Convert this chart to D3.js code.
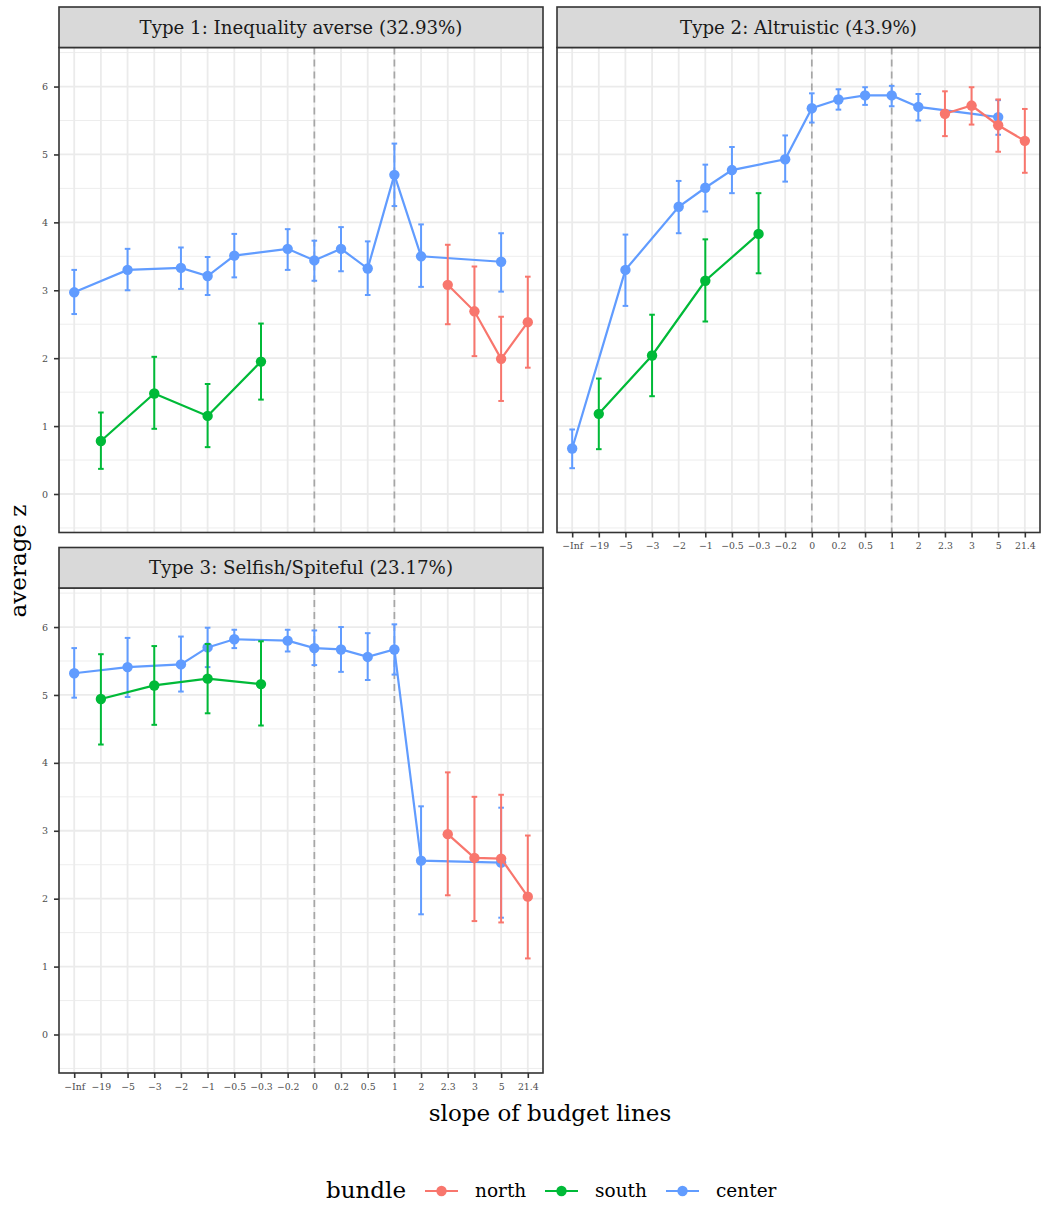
<!DOCTYPE html>
<html>
<head>
<meta charset="utf-8">
<script src="https://cdn.jsdelivr.net/npm/d3@7"></script>
<style>
  body { margin: 0; background: #fff; }
  svg { display: block; font-family: "DejaVu Serif", serif; }
</style>
</head>
<body>
<svg id="chart" width="1041" height="1207"></svg>
<script>
const slopes = ["-Inf", "-19", "-5", "-3", "-2", "-1", "-0.5", "-0.3", "-0.2", "0", "0.2", "0.5", "1", "2", "2.3", "3", "5", "21.4"];
const yTicks = [0, 1, 2, 3, 4, 5, 6];
const refLines = ["0", "1"];
const bundles = ["north", "south", "center"];
const bundleColors = ["#F8766D", "#00BA38", "#619CFF"];
const panelTitles = ["Type 1: Inequality averse (32.93%)", "Type 2: Altruistic (43.9%)", "Type 3: Selfish/Spiteful (23.17%)"];

// rows: [slope, mean, lower, upper]
const type1North = [["2.3", 3.08, 2.50, 3.67], ["3", 2.69, 2.03, 3.35], ["5", 1.99, 1.37, 2.61], ["21.4", 2.53, 1.86, 3.20]];
const type1South = [["-19", 0.78, 0.37, 1.20], ["-3", 1.48, 0.96, 2.02], ["-1", 1.15, 0.69, 1.62], ["-0.3", 1.95, 1.39, 2.51]];
const type1Center = [["-Inf", 2.97, 2.65, 3.30], ["-5", 3.30, 3.00, 3.61], ["-2", 3.33, 3.02, 3.63], ["-1", 3.21, 2.93, 3.49],
  ["-0.5", 3.51, 3.19, 3.83], ["-0.2", 3.61, 3.30, 3.90], ["0", 3.44, 3.14, 3.73], ["0.2", 3.61, 3.28, 3.93],
  ["0.5", 3.32, 2.93, 3.72], ["1", 4.70, 4.24, 5.16], ["2", 3.50, 3.05, 3.97], ["5", 3.42, 2.98, 3.84]];

const type2North = [["2.3", 5.60, 5.27, 5.93], ["3", 5.72, 5.44, 5.99], ["5", 5.43, 5.04, 5.81], ["21.4", 5.20, 4.73, 5.67]];
const type2South = [["-19", 1.18, 0.66, 1.70], ["-3", 2.04, 1.44, 2.64], ["-1", 3.14, 2.54, 3.75], ["-0.3", 3.83, 3.25, 4.43]];
const type2Center = [["-Inf", 0.67, 0.38, 0.95], ["-5", 3.30, 2.77, 3.82], ["-2", 4.23, 3.84, 4.61], ["-1", 4.51, 4.16, 4.85],
  ["-0.5", 4.77, 4.43, 5.11], ["-0.2", 4.93, 4.60, 5.28], ["0", 5.68, 5.47, 5.90], ["0.2", 5.81, 5.66, 5.96],
  ["0.5", 5.87, 5.73, 5.99], ["1", 5.87, 5.71, 6.01], ["2", 5.70, 5.50, 5.89], ["5", 5.55, 5.29, 5.80]];

const type3North = [["2.3", 2.95, 2.05, 3.86], ["3", 2.60, 1.67, 3.50], ["5", 2.59, 1.65, 3.53], ["21.4", 2.03, 1.12, 2.93]];
const type3South = [["-19", 4.94, 4.27, 5.60], ["-3", 5.14, 4.56, 5.72], ["-1", 5.24, 4.73, 5.75], ["-0.3", 5.16, 4.55, 5.79]];
const type3Center = [["-Inf", 5.32, 4.96, 5.69], ["-5", 5.41, 4.97, 5.84], ["-2", 5.45, 5.05, 5.86], ["-1", 5.70, 5.41, 5.99],
  ["-0.5", 5.82, 5.69, 5.96], ["-0.2", 5.80, 5.64, 5.96], ["0", 5.69, 5.44, 5.95], ["0.2", 5.67, 5.34, 6.00],
  ["0.5", 5.56, 5.22, 5.91], ["1", 5.67, 5.30, 6.04], ["2", 2.56, 1.77, 3.36], ["5", 2.53, 1.72, 3.34]];

const panelSeries = [
  [type1North, type1South, type1Center],
  [type2North, type2South, type2Center],
  [type3North, type3South, type3Center]
];

const svg = d3.select("#chart");
const minus = s => s.replace("-", "\u2212");

// panel boxes (plot area); strip sits above each
const layout = [
  { x0: 59, x1: 543, y0: 47.5, y1: 532.5, xAxis: false, yAxis: true },
  { x0: 557, x1: 1040, y0: 47.5, y1: 532.5, xAxis: true, yAxis: false },
  { x0: 59, x1: 543, y0: 588, y1: 1073, xAxis: true, yAxis: true }
];
const stripH = 40.5;

layout.forEach((p, i) => {
  const x = d3.scalePoint().domain(slopes).range([p.x0, p.x1]).padding(0.57);
  const y = d3.scaleLinear().domain([-0.567, 6.575]).range([p.y1, p.y0]);
  const g = svg.append("g");

  g.append("rect").attr("x", p.x0).attr("y", p.y0).attr("width", p.x1 - p.x0).attr("height", p.y1 - p.y0)
    .attr("fill", "#fff");

  // grid
  const minor = d3.range(-0.5, 6.6, 1);
  g.selectAll(".minor").data(minor).enter().append("line")
    .attr("x1", p.x0).attr("x2", p.x1).attr("y1", d => y(d)).attr("y2", d => y(d))
    .attr("stroke", "#ebebeb").attr("stroke-width", 0.9);
  g.selectAll(".hmajor").data(yTicks).enter().append("line")
    .attr("x1", p.x0).attr("x2", p.x1).attr("y1", d => y(d)).attr("y2", d => y(d))
    .attr("stroke", "#ebebeb").attr("stroke-width", 1.8);
  g.selectAll(".vmajor").data(slopes).enter().append("line")
    .attr("x1", d => x(d)).attr("x2", d => x(d)).attr("y1", p.y0).attr("y2", p.y1)
    .attr("stroke", "#ebebeb").attr("stroke-width", 1.8);

  // reference lines
  g.selectAll(".ref").data(refLines).enter().append("line")
    .attr("x1", d => x(d)).attr("x2", d => x(d)).attr("y1", p.y0).attr("y2", p.y1)
    .attr("stroke", "#a6a6a6").attr("stroke-width", 1.7).attr("stroke-dasharray", "7,5");

  // series: center first, then south, then north
  [2, 1, 0].forEach(k => {
    const rows = panelSeries[i][k];
    const col = bundleColors[k];
    const s = g.append("g");
    s.selectAll(".eb").data(rows).enter().append("line")
      .attr("x1", d => x(d[0])).attr("x2", d => x(d[0]))
      .attr("y1", d => y(d[2])).attr("y2", d => y(d[3]))
      .attr("stroke", col).attr("stroke-width", 2);
    [2, 3].forEach(c => {
      s.selectAll(".cap" + c).data(rows).enter().append("line")
        .attr("x1", d => x(d[0]) - 2.8).attr("x2", d => x(d[0]) + 2.8)
        .attr("y1", d => y(d[c])).attr("y2", d => y(d[c]))
        .attr("stroke", col).attr("stroke-width", 2);
    });
    s.append("path").datum(rows)
      .attr("d", d3.line().x(d => x(d[0])).y(d => y(d[1])))
      .attr("fill", "none").attr("stroke", col).attr("stroke-width", 2.2);
    s.selectAll("circle").data(rows).enter().append("circle")
      .attr("cx", d => x(d[0])).attr("cy", d => y(d[1])).attr("r", 5.2)
      .attr("fill", col);
  });

  // border
  g.append("rect").attr("x", p.x0).attr("y", p.y0).attr("width", p.x1 - p.x0).attr("height", p.y1 - p.y0)
    .attr("fill", "none").attr("stroke", "#333").attr("stroke-width", 1.6);

  // strip
  g.append("rect").attr("x", p.x0).attr("y", p.y0 - stripH).attr("width", p.x1 - p.x0).attr("height", stripH)
    .attr("fill", "#d9d9d9").attr("stroke", "#333").attr("stroke-width", 1.6);
  g.append("text").attr("x", (p.x0 + p.x1) / 2).attr("y", p.y0 - stripH / 2)
    .attr("text-anchor", "middle").attr("dominant-baseline", "central")
    .attr("font-size", 18.2).attr("fill", "#1a1a1a").text(panelTitles[i]);

  if (p.yAxis) {
    const ya = g.append("g").attr("transform", `translate(${p.x0},0)`)
      .call(d3.axisLeft(y).tickValues(yTicks).tickSize(5).tickPadding(6).tickFormat(d3.format("d")));
    ya.select(".domain").remove();
    ya.selectAll("line").attr("stroke", "#333").attr("stroke-width", 1.6);
    ya.selectAll("text").attr("font-family", "DejaVu Serif").attr("font-size", 9.5).attr("fill", "#4d4d4d");
  }
  if (p.xAxis) {
    const xa = g.append("g").attr("transform", `translate(0,${p.y1})`)
      .call(d3.axisBottom(x).tickSize(5).tickPadding(5).tickFormat(minus));
    xa.select(".domain").remove();
    xa.selectAll("line").attr("stroke", "#333").attr("stroke-width", 1.6);
    xa.selectAll("text").attr("font-family", "DejaVu Serif").attr("font-size", 9.3).attr("fill", "#4d4d4d");
  }
});

// axis titles
svg.append("text").attr("x", 550).attr("y", 1121).attr("text-anchor", "middle")
  .attr("font-size", 23).attr("fill", "#000").text("slope of budget lines");
svg.append("text").attr("transform", "translate(26,561) rotate(-90)").attr("text-anchor", "middle")
  .attr("font-size", 23).attr("fill", "#000").text("average z");

// legend
const legend = svg.append("g");
legend.append("text").attr("x", 326).attr("y", 1198).attr("font-size", 23).attr("fill", "#000").text("bundle");
const keyX = [425, 545, 666];
bundles.forEach((b, k) => {
  const kx = keyX[k];
  legend.append("line").attr("x1", kx).attr("x2", kx + 33).attr("y1", 1191).attr("y2", 1191)
    .attr("stroke", bundleColors[k]).attr("stroke-width", 2.2);
  legend.append("circle").attr("cx", kx + 16.5).attr("cy", 1191).attr("r", 5.2).attr("fill", bundleColors[k]);
  legend.append("text").attr("x", kx + 50).attr("y", 1197).attr("font-size", 18.5).attr("fill", "#000").text(b);
});
</script>
</body>
</html>
